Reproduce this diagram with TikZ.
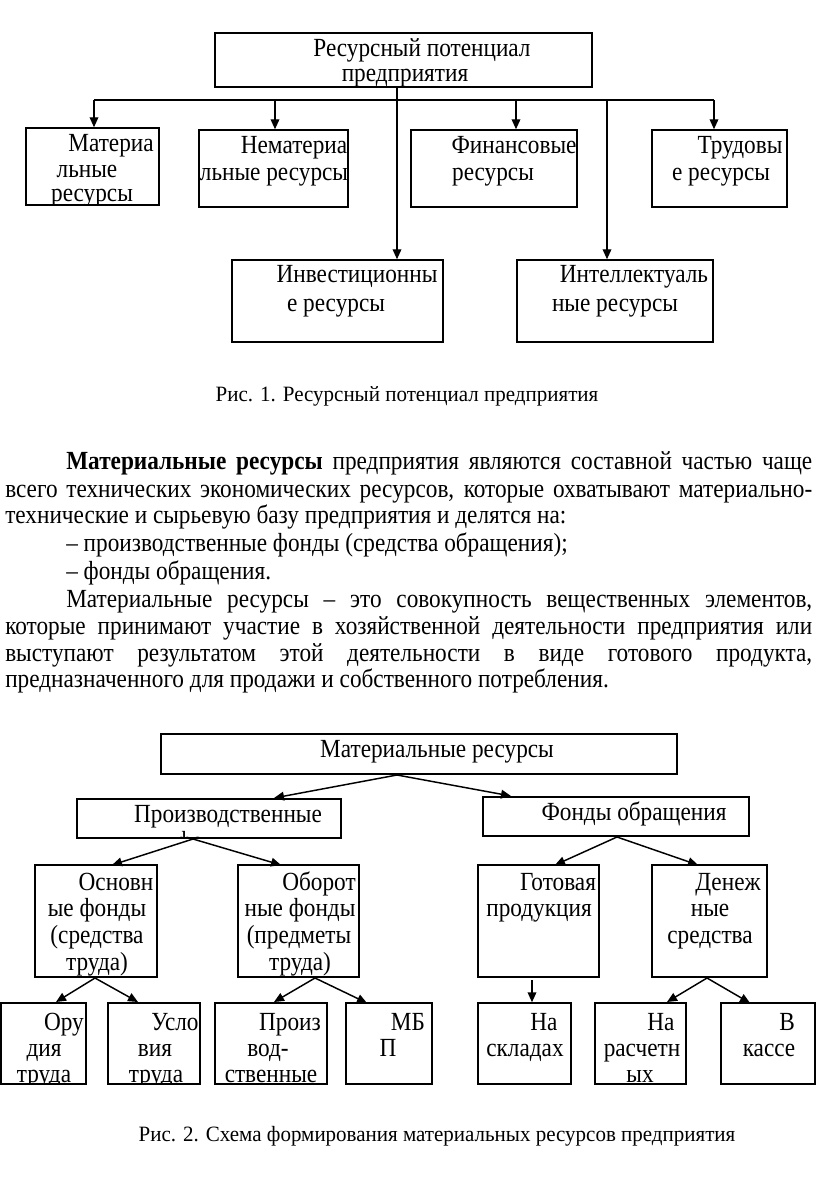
\documentclass[tikz,border=0pt]{standalone}
\usepackage{fontspec}
\setmainfont{Liberation Serif}[FakeStretch=0.89]
\newfontfamily\capfont{Liberation Serif}[FakeStretch=0.96]
\usetikzlibrary{arrows.meta,fit}
\newcounter{tn}
\tikzset{
  box/.style={draw, line width=1.1pt, inner sep=0pt},
  ln/.style={line width=1.1pt},
  arr/.style={line width=1.1pt, -{Triangle[length=7.5pt,width=6.5pt]}},
  tcs/.style={anchor=base, inner sep=0pt, font=\fontsize{19.6}{23}\selectfont},
  tws/.style={anchor=base west, inner sep=0pt, font=\fontsize{19.6}{23}\selectfont},
  caps/.style={anchor=base, inner sep=0pt, font=\capfont\fontsize{16.4}{19}\selectfont}
}
\newcommand\mytc[3]{\stepcounter{tn}\node[tcs] (t\arabic{tn}) at (#1,#2) {#3};}
\newcommand\mytw[3]{\stepcounter{tn}\node[tws] (t\arabic{tn}) at (#1,#2) {#3};}
\newcommand\mytj[4]{\stepcounter{tn}\node[tws] (t\arabic{tn}) at (#1,#2) {\makebox[#3][s]{#4}};}
\newcommand\mybox[5]{\node[box, fit={(#2,#3) (#4,#5)}] (#1) {};}
\begin{document}
\begin{tikzpicture}[x=0.75pt,y=-0.75pt]
\useasboundingbox (0,0) rectangle (816,1187);
% ---------- diagram 1 ----------
\mybox{top}{215}{33}{592}{87}
\mytc{422}{57}{Ресурсный потенциал}
\mytc{405}{82}{предприятия}
\mybox{mat}{26}{128}{159}{205}
\begin{scope}
\clip (26,128) rectangle (159,205);
\mytc{111}{152}{Материа}
\mytc{87}{178}{льные}
\mytc{92}{202}{ресурсы}
\end{scope}
\mybox{nem}{199}{130}{348}{207}
\mytc{294}{154}{Нематериа}
\mytc{274}{181}{льные ресурсы}
\mybox{fin}{411}{130}{577}{207}
\mytc{514}{154}{Финансовые}
\mytc{493}{181}{ресурсы}
\mybox{tru}{652}{130}{787}{207}
\mytc{740}{154}{Трудовы}
\mytc{721}{181}{е ресурсы}
\mybox{inv}{232}{260}{443}{342}
\mytc{357}{283}{Инвестиционны}
\mytc{336}{311}{е ресурсы}
\mybox{int}{517}{260}{713}{342}
\mytc{634}{283}{Интеллектуаль}
\mytc{615}{311}{ные ресурсы}
% connectors
\coordinate (b1) at (94,100);
\coordinate (b2) at (275,100);
\coordinate (b3) at (397,100);
\coordinate (b4) at (516,100);
\coordinate (b5) at (607,100);
\coordinate (b6) at (714,100);
\draw[ln] (b1) -- (b6);
\draw[arr] (top.south -| b3) -- (inv.north -| b3);
\draw[arr] (b5) -- (int.north -| b5);
\draw[arr] (b1) -- (mat.north -| b1);
\draw[arr] (b2) -- (nem.north -| b2);
\draw[arr] (b4) -- (fin.north -| b4);
\draw[arr] (b6) -- (tru.north -| b6);
\node[caps] (cap1) at (407,401) {Рис. 1. Ресурсный потенциал предприятия};
% ---------- text ----------
\mytj{66}{469}{559.5pt}{\textbf{Материальные ресурсы} предприятия являются составной частью чаще}
\mytj{5}{497}{605.25pt}{всего технических экономических ресурсов, которые охватывают материально-}
\mytw{5}{523}{технические и сырьевую базу предприятия и делятся на:}
\mytw{66}{551}{– производственные фонды (средства обращения);}
\mytw{66}{579}{– фонды обращения.}
\mytj{66}{607}{559.5pt}{Материальные ресурсы – это совокупность вещественных элементов,}
\mytj{5}{634}{605.25pt}{которые принимают участие в хозяйственной деятельности предприятия или}
\mytj{5}{661}{605.25pt}{выступают результатом этой деятельности в виде готового продукта,}
\mytw{5}{687}{предназначенного для продажи и собственного потребления.}
% ---------- diagram 2 ----------
\mybox{mr}{161}{734}{677}{774}
\mytc{437}{757}{Материальные ресурсы}
\mybox{pr}{77}{799}{341}{838}
\begin{scope}
\clip (77,799) rectangle (341,838);
\mytc{228}{822}{Производственные}
\mytc{210}{849}{фонды}
\end{scope}
\mybox{fo}{483}{797}{749}{836}
\mytc{634}{820}{Фонды обращения}
% level 3
\mybox{os}{35}{865}{157}{977}
\mytc{116}{890}{Основн}
\mytc{97}{916}{ые фонды}
\mytc{97}{943}{(средства}
\mytc{97}{970}{труда)}
\mybox{ob}{238}{865}{359}{977}
\mytc{319}{890}{Оборот}
\mytc{300}{916}{ные фонды}
\mytc{299}{943}{(предметы}
\mytc{300}{970}{труда)}
\mybox{gp}{478}{865}{599}{977}
\mytc{558}{890}{Готовая}
\mytc{539}{916}{продукция}
\mybox{dc}{652}{865}{767}{977}
\mytc{728}{890}{Денеж}
\mytc{710}{916}{ные}
\mytc{710}{943}{средства}
% level 4
\mybox{or}{1}{1003}{86}{1084}
\mybox{us}{108}{1003}{200}{1084}
\mybox{pv}{215}{1003}{327}{1084}
\mybox{mb}{346}{1003}{432}{1084}
\mybox{ns}{478}{1003}{571}{1084}
\mybox{nr}{595}{1003}{686}{1084}
\mybox{vk}{721}{1003}{815}{1084}
\begin{scope}
\clip (0,1003) rectangle (816,1084);
\mytc{64}{1030}{Ору}
\mytc{44}{1056}{дия}
\mytc{44}{1082}{труда}
\mytc{175}{1030}{Усло}
\mytc{155}{1056}{вия}
\mytc{156}{1082}{труда}
\mytc{290}{1030}{Произ}
\mytc{268}{1056}{вод-}
\mytc{271}{1082}{ственные}
\mytc{408}{1030}{МБ}
\mytc{388}{1056}{П}
\mytc{544}{1030}{На}
\mytc{525}{1056}{складах}
\mytc{661}{1030}{На}
\mytc{642}{1056}{расчетн}
\mytc{640}{1082}{ых}
\mytc{787}{1030}{В}
\mytc{769}{1056}{кассе}
\end{scope}
% connectors diagram 2
\coordinate (m0) at (397,775);
\coordinate (p0) at (193,839);
\coordinate (f0) at (617,837);
\coordinate (o0) at (95,978);
\coordinate (q0) at (315,978);
\coordinate (g0) at (532,980);
\coordinate (d0) at (707,978);
\draw[arr] (m0) -- (274,798);
\draw[arr] (m0) -- (511,796);
\draw[arr] (p0) -- (112,865);
\draw[arr] (p0) -- (281,865);
\draw[arr] (f0) -- (555,865);
\draw[arr] (f0) -- (698,865);
\draw[arr] (o0) -- (56,1002);
\draw[arr] (o0) -- (138,1002);
\draw[arr] (q0) -- (274,1002);
\draw[arr] (q0) -- (367,1003);
\draw[arr] (g0) -- (g0 |- ns.north);
\draw[arr] (d0) -- (667,1002);
\draw[arr] (d0) -- (750,1003);
\node[caps] (cap2) at (437,1141) {Рис. 2. Схема формирования материальных ресурсов предприятия};
\end{tikzpicture}
\end{document}
